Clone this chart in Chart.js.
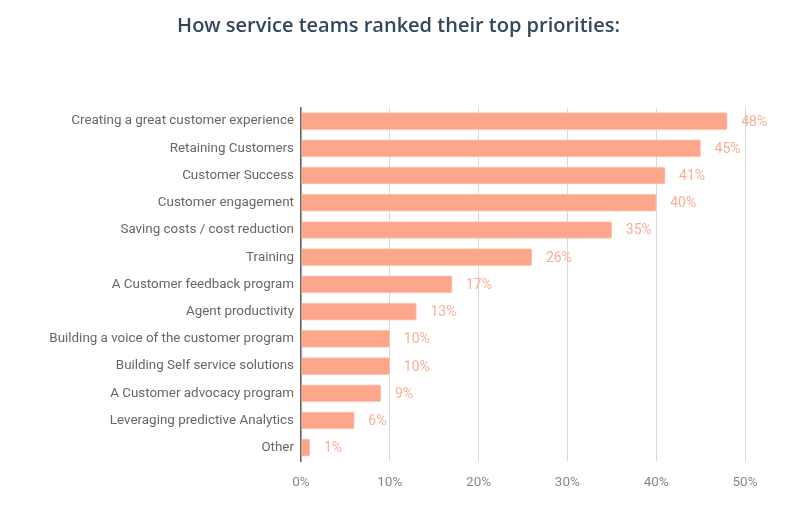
<!DOCTYPE html>
<html>
<head>
<meta charset="utf-8">
<script src="https://cdn.jsdelivr.net/npm/chart.js@4"></script>
<style>
    html, body { margin: 0; padding: 0; background: #fff; }
    #wrap { width: 797px; height: 513px; position: relative; }
    #title {
        position: absolute; left: 0; right: 0; top: 11px;
        text-align: center;
        font-family: 'Open Sans', sans-serif; font-weight: 600; font-size: 20px;
        color: #33475b;
    }
</style>
</head>
<body>
<div id="wrap">
    <div id="title">How service teams ranked their top priorities:</div>
    <canvas id="priorityChart"></canvas>
</div>
<script>
// Data
const categories = [
    'Creating a great customer experience',
    'Retaining Customers',
    'Customer Success',
    'Customer engagement',
    'Saving costs / cost reduction',
    'Training',
    'A Customer feedback program',
    'Agent productivity',
    'Building a voice of the customer program',
    'Building Self service solutions',
    'A Customer advocacy program',
    'Leveraging predictive Analytics',
    'Other'
];
const percentages = [48, 45, 41, 40, 35, 26, 17, 13, 10, 10, 9, 6, 1];
const xTicks = [0, 10, 20, 30, 40, 50];

const barColor = '#fca78b';
const labelColor = '#fbae95';

// Value labels at the end of each bar
const valueLabels = {
    id: 'valueLabels',
    afterDatasetsDraw(chart) {
        const ctx = chart.ctx;
        const meta = chart.getDatasetMeta(0);
        ctx.save();
        ctx.font = '14px Roboto';
        ctx.fillStyle = labelColor;
        ctx.textAlign = 'left';
        ctx.textBaseline = 'middle';
        meta.data.forEach((bar, i) => {
            ctx.fillText(percentages[i] + '%', bar.x + 14, bar.y + 1);
        });
        ctx.restore();
    }
};

const ctx = document.getElementById('priorityChart').getContext('2d');
new Chart(ctx, {
    type: 'bar',
    data: {
        labels: categories,
        datasets: [{
            data: percentages,
            backgroundColor: barColor,
            borderColor: '#fdc3ae',
            borderWidth: 1,
            borderRadius: 2,
            borderSkipped: 'start',
            barThickness: 17
        }]
    },
    options: {
        indexAxis: 'y',
        responsive: true,
        maintainAspectRatio: false,
        animation: false,
        layout: { padding: { left: 0, right: 52, top: 107.5, bottom: 9.5 } },
        plugins: {
            legend: { display: false },
            tooltip: { enabled: false },
            title: { display: false }
        },
        scales: {
            x: {
                min: 0,
                max: 50,
                afterBuildTicks(scale) {
                    scale.ticks = xTicks.map(v => ({ value: v }));
                },
                grid: { color: '#d9d9d9', lineWidth: 1, drawTicks: false },
                border: { display: false },
                ticks: {
                    color: '#888',
                    font: { family: 'Roboto', size: 13.5 },
                    padding: 13,
                    callback: v => v + '%'
                }
            },
            y: {
                grid: { display: false, drawTicks: false },
                border: { display: true, color: '#666', width: 1.5 },
                afterFit(scale) { scale.width = 301; },
                ticks: {
                    color: '#666',
                    font: { family: 'Roboto', size: 13.4 },
                    padding: 7,
                    autoSkip: false
                }
            }
        }
    },
    plugins: [valueLabels]
});
</script>
</body>
</html>
